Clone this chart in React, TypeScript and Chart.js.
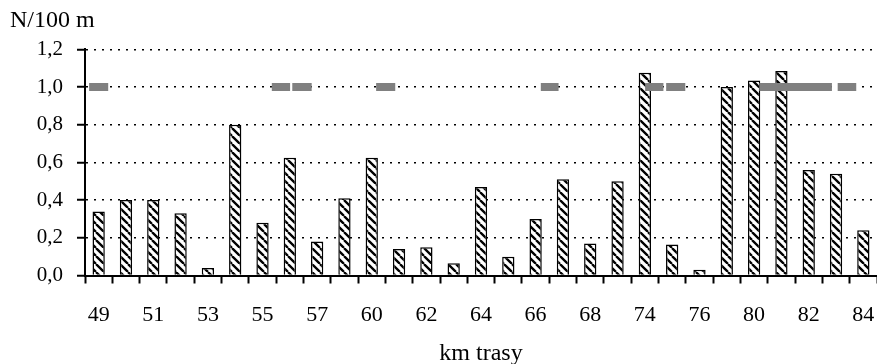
import React, { useEffect, useRef } from 'react';
import { Chart, registerables } from 'chart.js';

Chart.register(...registerables);

// km of the route (every other one is labelled on the axis)
const kmLabels = ['49', '50', '51', '52', '53', '54', '55', '56', '57', '59', '60', '61', '62', '63', '64', '65', '66', '67', '68', '70', '74', '75', '76', '78', '80', '81', '82', '83', '84'];
// N/100 m per km
const densityValues = [0.34, 0.40, 0.40, 0.33, 0.04, 0.80, 0.28, 0.625, 0.18, 0.41, 0.625, 0.14, 0.15, 0.065, 0.47, 0.10, 0.30, 0.51, 0.17, 0.50, 1.075, 0.165, 0.03, 1.0, 1.035, 1.085, 0.56, 0.54, 0.24];
// gray reference marks at level 1,0 (start/end in category units)
const grayLevel = 1.0;
const grayStart = [-0.35, 6.34, 7.09, 10.16, 16.19, 20.01, 20.78, 24.19, 27.06];
const grayEnd = [0.35, 7.01, 7.80, 10.86, 16.84, 20.68, 21.48, 26.85, 27.74];
// y axis ticks
const yMin = 0;
const yMax = 1.2;
const yStep = 0.2;

const FONT = "'Liberation Serif', 'Times New Roman', serif";
const W = 877;
const H = 364;

export default function App() {
  const ref = useRef<HTMLCanvasElement>(null);

  useEffect(() => {
    const canvas = ref.current;
    if (!canvas) return;

    const s = 8;
    const pc = document.createElement('canvas');
    pc.width = s;
    pc.height = s;
    const p = pc.getContext('2d')!;
    p.fillStyle = '#ffffff';
    p.fillRect(0, 0, s, s);
    p.strokeStyle = '#000000';
    p.lineWidth = 2.3;
    p.beginPath();
    for (const k of [-s, 0, s]) {
      p.moveTo(k, 0);
      p.lineTo(k + s, s);
    }
    p.stroke();
    const hatch = canvas.getContext('2d')!.createPattern(pc, 'repeat');

    const grayData: { x: number; y: number | null }[] = [];
    grayStart.forEach((st, i) => {
      grayData.push({ x: st, y: grayLevel }, { x: grayEnd[i], y: grayLevel });
      if (i < grayStart.length - 1) {
        grayData.push({ x: (grayEnd[i] + grayStart[i + 1]) / 2, y: null });
      }
    });

    const chart = new Chart(canvas, {
      type: 'bar',
      data: {
        labels: kmLabels,
        datasets: [
          {
            type: 'line',
            data: grayData as any,
            xAxisID: 'x2',
            yAxisID: 'y',
            borderColor: '#808080',
            borderWidth: 8,
            borderCapStyle: 'butt',
            pointRadius: 0,
            spanGaps: false,
            tension: 0,
            grouped: false,
            order: 0,
          } as any,
          {
            type: 'bar',
            data: densityValues,
            xAxisID: 'x',
            yAxisID: 'y',
            backgroundColor: hatch as any,
            borderColor: '#000000',
            borderWidth: 1.5,
            barPercentage: 0.45,
            categoryPercentage: 1,
            grouped: false,
            order: 1,
          } as any,
        ],
      },
      options: {
        animation: false,
        responsive: false,
        maintainAspectRatio: false,
        devicePixelRatio: 1,
        layout: { padding: { left: 10, right: 0, top: 0, bottom: 0 } },
        plugins: {
          legend: { display: false },
          tooltip: { enabled: false },
          title: {
            display: true,
            text: 'N/100 m',
            align: 'start',
            color: '#000',
            font: { family: FONT, size: 24, weight: 'normal', lineHeight: 1.2 },
            padding: { top: 6.6, bottom: 13.9 },
          },
        },
        scales: {
          x: {
            type: 'category',
            offset: true,
            grid: {
              display: true,
              drawOnChartArea: false,
              drawTicks: true,
              tickLength: 8,
              tickWidth: 2,
              tickColor: '#000',
              offset: true,
            },
            border: { display: true, color: '#000', width: 2 },
            ticks: {
              autoSkip: false,
              maxRotation: 0,
              minRotation: 0,
              padding: 19,
              color: '#000',
              font: { family: FONT, size: 22 },
              callback: (_v: any, i: number) => (i % 2 === 0 ? kmLabels[i] : ''),
            },
            title: {
              display: true,
              text: 'km trasy',
              color: '#000',
              font: { family: FONT, size: 24, lineHeight: 0.8 },
              padding: { top: 0, bottom: 1 },
            },
            afterFit: (sc: any) => {
              sc.height = 88.5;
              sc.paddingLeft = 0;
              sc.paddingRight = 0;
            },
          },
          x2: {
            type: 'linear',
            display: false,
            offset: false,
            grid: { offset: false },
            min: -0.5,
            max: kmLabels.length - 0.5,
          },
          y: {
            min: yMin,
            max: yMax,
            ticks: {
              stepSize: yStep,
              padding: 14,
              color: '#000',
              font: { family: FONT, size: 21 },
              callback: (v: any) => Number(v).toFixed(1).replace('.', ','),
            },
            grid: {
              color: '#000',
              lineWidth: 1.5,
              tickLength: 8,
              tickWidth: 2,
              tickColor: '#000',
              tickBorderDash: [],
            },
            border: { display: true, color: '#000', width: 2, dash: [2, 6] },
            afterFit: (sc: any) => {
              sc.width = 75;
            },
          },
        },
      } as any,
    });

    return () => chart.destroy();
  }, []);

  return (
    <div style={{ position: 'fixed', left: 0, top: 0, width: W, height: H, background: '#fff' }}>
      <canvas ref={ref} width={W} height={H} style={{ width: W, height: H, display: 'block' }} />
    </div>
  );
}
